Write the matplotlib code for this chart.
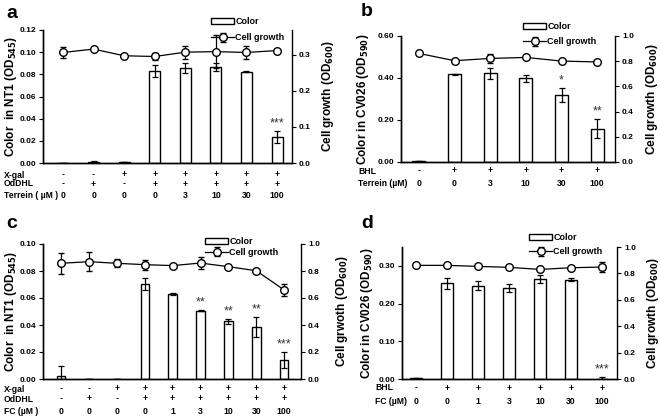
import matplotlib
matplotlib.use('Agg')
import matplotlib.pyplot as plt
import matplotlib.transforms as mtransforms
import numpy as np

plt.rcParams['font.family'] = ['Liberation Sans', 'DejaVu Sans']
plt.rcParams['font.weight'] = 'bold'
plt.rcParams['axes.linewidth'] = 1.0

# ---- panel a: terrein, NT1 ----
a_rows = ['X-gal', 'OdDHL', 'Terrein ( \u00b5M )']
a_table = [['-', '-', '+', '+', '+', '+', '+', '+'],
           ['-', '+', '-', '+', '+', '+', '+', '+'],
           ['0', '0', '0', '0', '3', '10', '30', '100']]
a_color = [0.0, 0.001, 0.0005, 0.0833, 0.0854, 0.0869, 0.0824, 0.0237]
a_color_err = [0.0, 0.001, 0.0, 0.0054, 0.0045, 0.0036, 0.0005, 0.0053]
a_growth = [0.3066, 0.316, 0.2975, 0.2955, 0.3075, 0.309, 0.3066, 0.312]
a_growth_err = [0.016, 0.0, 0.0, 0.011, 0.018, 0.045, 0.018, 0.005]
a_stars = ['', '', '', '', '', '', '', '***']

# ---- panel b: terrein, CV026 ----
b_rows = ['BHL', 'Terrein (\u00b5M)']
b_table = [['-', '+', '+', '+', '+', '+'],
           ['0', '0', '3', '10', '30', '100']]
b_color = [0.003, 0.417, 0.422, 0.398, 0.318, 0.159]
b_color_err = [0.0, 0.004, 0.028, 0.018, 0.033, 0.046]
b_growth = [0.862, 0.804, 0.822, 0.830, 0.801, 0.794]
b_growth_err = [0.0, 0.0, 0.035, 0.0, 0.0, 0.0]
b_stars = ['', '', '', '', '*', '**']

# ---- panel c: FC, NT1 ----
c_rows = ['X-gal', 'OdDHL', 'FC (\u00b5M )']
c_table = [['-', '-', '+', '+', '+', '+', '+', '+', '+'],
           ['-', '+', '-', '+', '+', '+', '+', '+', '+'],
           ['0', '0', '0', '0', '1', '3', '10', '30', '100']]
c_color = [0.0025, 0.0002, 0.0, 0.0704, 0.063, 0.0506, 0.0427, 0.0383, 0.0143]
c_color_err = [0.007, 0.0, 0.0, 0.0043, 0.0005, 0.0005, 0.002, 0.0074, 0.006]
c_growth = [0.857, 0.869, 0.857, 0.847, 0.840, 0.859, 0.832, 0.802, 0.659]
c_growth_err = [0.08, 0.072, 0.031, 0.038, 0.005, 0.043, 0.0, 0.0, 0.046]
c_stars = ['', '', '', '', '', '**', '**', '**', '***']

# ---- panel d: FC, CV026 ----
d_rows = ['BHL', 'FC (\u00b5M)']
d_table = [['-', '+', '+', '+', '+', '+', '+'],
           ['0', '0', '1', '3', '10', '30', '100']]
d_color = [0.002, 0.254, 0.247, 0.241, 0.265, 0.263, 0.0]
d_color_err = [0.0, 0.0146, 0.012, 0.010, 0.011, 0.004, 0.005]
d_growth = [0.861, 0.861, 0.853, 0.846, 0.830, 0.843, 0.848]
d_growth_err = [0.0, 0.0, 0.0, 0.0, 0.0, 0.0, 0.035]
d_stars = ['', '', '', '', '', '', '***']

W, H = 660, 418
fig = plt.figure(figsize=(6.6, 4.18), dpi=100)


def px_box(l, r, t, b):
    # pixel box -> figure fraction rect
    return [l / W, 1 - b / H, (r - l) / W, (b - t) / H]


def panel(rect, xlim, color, color_err, growth, growth_err, stars, rows, table,
          ylim_l, yticks_l, fmt_l, ylim_r, yticks_r, ylabel_l, ylabel_r,
          bar_w, row_off, row_x, lab_xl, lab_xr, letter, letter_xy, leg_xy, leg_sp,
          cat_ticks=False):
    ax = fig.add_axes(rect)
    n = len(color)
    x = np.arange(n)
    ax.bar(x, color, width=bar_w, color='white', edgecolor='black', linewidth=1.0,
           label='Color', zorder=2)
    ax.errorbar(x, color, yerr=color_err, fmt='none', ecolor='black', elinewidth=0.9,
                capsize=2.3, capthick=0.9, zorder=3)
    ax.set_xlim(*xlim)
    ax.set_ylim(*ylim_l)
    ax.set_yticks(yticks_l)
    ax.set_yticklabels([fmt_l % v for v in yticks_l])
    ax.spines['top'].set_visible(False)
    ax.spines['right'].set_visible(False)
    ax.tick_params(axis='y', direction='out', length=3, labelsize=6, pad=2)
    if cat_ticks:
        ax.set_xticks(np.arange(-0.5, n, 1.0))
        ax.tick_params(axis='x', direction='out', length=3, labelbottom=False)
    else:
        ax.set_xticks([])
    ax.set_ylabel(ylabel_l, fontsize=8.5, fontweight='bold', va='center')
    ax.yaxis.set_label_coords(
        lab_xl, 0.5, transform=mtransforms.blended_transform_factory(fig.transFigure, ax.transAxes))

    for i in range(n):
        if stars[i]:
            ax.annotate(stars[i], xy=(i, color[i] + color_err[i]), xytext=(0, 1),
                        textcoords='offset points', ha='center', va='bottom',
                        fontsize=9, fontweight='normal', color='#333333')

    ax2 = ax.twinx()
    ax2.errorbar(x, growth, yerr=growth_err, color='black', linewidth=0.9,
                 marker='o', markersize=5.5, markerfacecolor='white',
                 markeredgecolor='black', markeredgewidth=1.0, ecolor='black',
                 elinewidth=0.9, capsize=2.3, capthick=0.9, label='Cell growth', zorder=4)
    ax2.set_ylim(*ylim_r)
    ax2.set_yticks(yticks_r)
    ax2.set_yticklabels(['%.1f' % v for v in yticks_r])
    ax2.spines['top'].set_visible(False)
    ax2.tick_params(axis='y', direction='out', length=3, labelsize=6, pad=2)
    ax2.set_ylabel(ylabel_r, fontsize=8.5, fontweight='bold', va='center')
    ax2.yaxis.set_label_coords(
        lab_xr, 0.5, transform=mtransforms.blended_transform_factory(fig.transFigure, ax2.transAxes))

    # condition table under the x axis
    for r, (name, vals) in enumerate(zip(rows, table)):
        for i, v in enumerate(vals):
            ax.annotate(v, xy=(i, 0), xycoords=ax.get_xaxis_transform(),
                        xytext=(0, -row_off[r]), textcoords='offset points',
                        ha='center', va='center', fontsize=6.2)
        ax.annotate(name, xy=(row_x / W, 0), xycoords=('figure fraction', 'axes fraction'),
                    xytext=(0, -row_off[r]), textcoords='offset points',
                    ha='left', va='center', fontsize=6.2)

    fig.text(letter_xy[0] / W, 1 - letter_xy[1] / H, letter, fontsize=14,
             fontweight='bold', ha='left', va='center')

    h1, l1 = ax.get_legend_handles_labels()
    h2, l2 = ax2.get_legend_handles_labels()
    fig.legend(h1 + h2, l1 + l2, loc='upper left',
               bbox_to_anchor=(leg_xy[0] / W, 1 - leg_xy[1] / H), frameon=False,
               fontsize=6.5, handlelength=2.6, handleheight=0.6, handletextpad=0.1,
               labelspacing=leg_sp, borderpad=0, borderaxespad=0)
    return ax, ax2


pt = 0.72  # px -> points at 100 dpi

panel(px_box(43, 292, 30, 163), (-0.654, 7.49), a_color, a_color_err, a_growth, a_growth_err,
      a_stars, a_rows, a_table, (0, 0.12), [0, 0.02, 0.04, 0.06, 0.08, 0.10, 0.12], '%.2f',
      (0, 0.369), [0, 0.1, 0.2, 0.3], 'Color  in NT1 (OD$_{\\mathbf{545}}$)',
      'Cell growth (OD$_{\\mathbf{600}}$)', 0.36, [12 * pt, 21 * pt, 32 * pt], 4,
      11 / W, 328 / W, 'a', (6, 13), (211, 17), 0.8)

panel(px_box(401, 615, 36, 162), (-0.5, 5.5), b_color, b_color_err, b_growth, b_growth_err,
      b_stars, b_rows, b_table, (0, 0.6), [0, 0.2, 0.4, 0.6], '%.2f',
      (0, 1.0), [0, 0.2, 0.4, 0.6, 0.8, 1.0], 'Color in CV026 (OD$_{\\mathbf{590}}$)',
      'Cell growth (OD$_{\\mathbf{600}}$)', 0.37, [9 * pt, 21 * pt], 358,
      363 / W, 652 / W, 'b', (361, 12), (523, 22), 0.7)

panel(px_box(43, 301, 244, 379), (-0.645, 8.6), c_color, c_color_err, c_growth, c_growth_err,
      c_stars, c_rows, c_table, (0, 0.10), [0, 0.02, 0.04, 0.06, 0.08, 0.10], '%.2f',
      (0, 1.0), [0, 0.2, 0.4, 0.6, 0.8, 1.0], 'Color  in NT1 (OD$_{\\mathbf{545}}$)',
      'Cell grwoth (OD$_{\\mathbf{600}}$)', 0.3, [10 * pt, 20 * pt, 32 * pt], 4,
      11 / W, 342 / W, 'c', (6, 224), (205, 237), 0.2)

panel(px_box(402, 617, 247, 379), (-0.45, 6.48), d_color, d_color_err, d_growth, d_growth_err,
      d_stars, d_rows, d_table, (0, 0.35), [0, 0.1, 0.2, 0.3], '%.2f',
      (0, 1.0), [0, 0.2, 0.4, 0.6, 0.8, 1.0], 'Color in CV026 (OD$_{\\mathbf{590}}$)',
      'Cell growth (OD$_{\\mathbf{600}}$)', 0.4, [9 * pt, 22 * pt], 375,
      367 / W, 653 / W, 'd', (361, 224), (529, 233), 0.6)

fig.savefig('out.png', dpi=100)
